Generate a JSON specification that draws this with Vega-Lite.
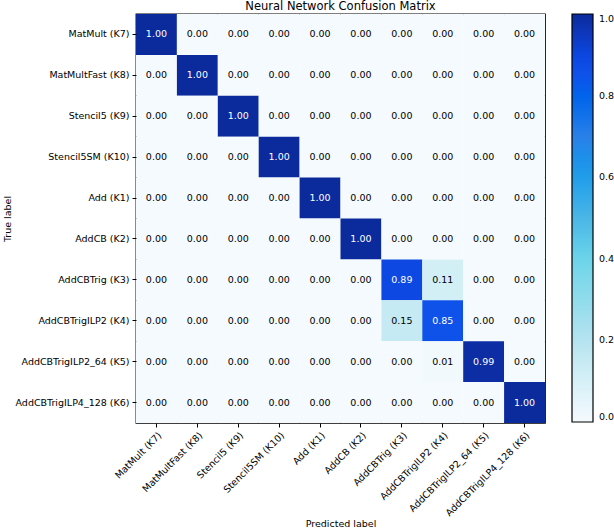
{
  "$schema": "https://vega.github.io/schema/vega-lite/v6.json",
  "width": 409,
  "height": 409,
  "autosize": "none",
  "padding": {"left": 136, "top": 14, "right": 69, "bottom": 107},
  "background": "white",
  "config": {
    "font": "DejaVu Sans",
    "view": {"stroke": "black", "strokeWidth": 1.3},
    "axis": {"labelFont": "DejaVu Sans", "titleFont": "DejaVu Sans", "labelColor": "black", "titleColor": "black", "tickColor": "black", "tickWidth": 1, "domain": false, "grid": false, "labelFontSize": 9.5, "titleFontSize": 9.5, "titleFontWeight": "normal", "tickSize": 4},
    "legend": {"labelFont": "DejaVu Sans", "labelFontSize": 9.5, "labelColor": "black"}
  },
  "title": {"text": "Neural Network Confusion Matrix", "fontSize": 11.5, "fontWeight": "normal", "font": "DejaVu Sans", "color": "black", "offset": 2, "anchor": "middle"},
  "data": {"values": [
    {"t":"MatMult (K7)","p":"MatMult (K7)","v":1.0},{"t":"MatMult (K7)","p":"MatMultFast (K8)","v":0},{"t":"MatMult (K7)","p":"Stencil5 (K9)","v":0},{"t":"MatMult (K7)","p":"Stencil5SM (K10)","v":0},{"t":"MatMult (K7)","p":"Add (K1)","v":0},{"t":"MatMult (K7)","p":"AddCB (K2)","v":0},{"t":"MatMult (K7)","p":"AddCBTrig (K3)","v":0},{"t":"MatMult (K7)","p":"AddCBTrigILP2 (K4)","v":0},{"t":"MatMult (K7)","p":"AddCBTrigILP2_64 (K5)","v":0},{"t":"MatMult (K7)","p":"AddCBTrigILP4_128 (K6)","v":0},
    {"t":"MatMultFast (K8)","p":"MatMult (K7)","v":0},{"t":"MatMultFast (K8)","p":"MatMultFast (K8)","v":1.0},{"t":"MatMultFast (K8)","p":"Stencil5 (K9)","v":0},{"t":"MatMultFast (K8)","p":"Stencil5SM (K10)","v":0},{"t":"MatMultFast (K8)","p":"Add (K1)","v":0},{"t":"MatMultFast (K8)","p":"AddCB (K2)","v":0},{"t":"MatMultFast (K8)","p":"AddCBTrig (K3)","v":0},{"t":"MatMultFast (K8)","p":"AddCBTrigILP2 (K4)","v":0},{"t":"MatMultFast (K8)","p":"AddCBTrigILP2_64 (K5)","v":0},{"t":"MatMultFast (K8)","p":"AddCBTrigILP4_128 (K6)","v":0},
    {"t":"Stencil5 (K9)","p":"MatMult (K7)","v":0},{"t":"Stencil5 (K9)","p":"MatMultFast (K8)","v":0},{"t":"Stencil5 (K9)","p":"Stencil5 (K9)","v":1.0},{"t":"Stencil5 (K9)","p":"Stencil5SM (K10)","v":0},{"t":"Stencil5 (K9)","p":"Add (K1)","v":0},{"t":"Stencil5 (K9)","p":"AddCB (K2)","v":0},{"t":"Stencil5 (K9)","p":"AddCBTrig (K3)","v":0},{"t":"Stencil5 (K9)","p":"AddCBTrigILP2 (K4)","v":0},{"t":"Stencil5 (K9)","p":"AddCBTrigILP2_64 (K5)","v":0},{"t":"Stencil5 (K9)","p":"AddCBTrigILP4_128 (K6)","v":0},
    {"t":"Stencil5SM (K10)","p":"MatMult (K7)","v":0},{"t":"Stencil5SM (K10)","p":"MatMultFast (K8)","v":0},{"t":"Stencil5SM (K10)","p":"Stencil5 (K9)","v":0},{"t":"Stencil5SM (K10)","p":"Stencil5SM (K10)","v":1.0},{"t":"Stencil5SM (K10)","p":"Add (K1)","v":0},{"t":"Stencil5SM (K10)","p":"AddCB (K2)","v":0},{"t":"Stencil5SM (K10)","p":"AddCBTrig (K3)","v":0},{"t":"Stencil5SM (K10)","p":"AddCBTrigILP2 (K4)","v":0},{"t":"Stencil5SM (K10)","p":"AddCBTrigILP2_64 (K5)","v":0},{"t":"Stencil5SM (K10)","p":"AddCBTrigILP4_128 (K6)","v":0},
    {"t":"Add (K1)","p":"MatMult (K7)","v":0},{"t":"Add (K1)","p":"MatMultFast (K8)","v":0},{"t":"Add (K1)","p":"Stencil5 (K9)","v":0},{"t":"Add (K1)","p":"Stencil5SM (K10)","v":0},{"t":"Add (K1)","p":"Add (K1)","v":1.0},{"t":"Add (K1)","p":"AddCB (K2)","v":0},{"t":"Add (K1)","p":"AddCBTrig (K3)","v":0},{"t":"Add (K1)","p":"AddCBTrigILP2 (K4)","v":0},{"t":"Add (K1)","p":"AddCBTrigILP2_64 (K5)","v":0},{"t":"Add (K1)","p":"AddCBTrigILP4_128 (K6)","v":0},
    {"t":"AddCB (K2)","p":"MatMult (K7)","v":0},{"t":"AddCB (K2)","p":"MatMultFast (K8)","v":0},{"t":"AddCB (K2)","p":"Stencil5 (K9)","v":0},{"t":"AddCB (K2)","p":"Stencil5SM (K10)","v":0},{"t":"AddCB (K2)","p":"Add (K1)","v":0},{"t":"AddCB (K2)","p":"AddCB (K2)","v":1.0},{"t":"AddCB (K2)","p":"AddCBTrig (K3)","v":0},{"t":"AddCB (K2)","p":"AddCBTrigILP2 (K4)","v":0},{"t":"AddCB (K2)","p":"AddCBTrigILP2_64 (K5)","v":0},{"t":"AddCB (K2)","p":"AddCBTrigILP4_128 (K6)","v":0},
    {"t":"AddCBTrig (K3)","p":"MatMult (K7)","v":0},{"t":"AddCBTrig (K3)","p":"MatMultFast (K8)","v":0},{"t":"AddCBTrig (K3)","p":"Stencil5 (K9)","v":0},{"t":"AddCBTrig (K3)","p":"Stencil5SM (K10)","v":0},{"t":"AddCBTrig (K3)","p":"Add (K1)","v":0},{"t":"AddCBTrig (K3)","p":"AddCB (K2)","v":0},{"t":"AddCBTrig (K3)","p":"AddCBTrig (K3)","v":0.89},{"t":"AddCBTrig (K3)","p":"AddCBTrigILP2 (K4)","v":0.11},{"t":"AddCBTrig (K3)","p":"AddCBTrigILP2_64 (K5)","v":0},{"t":"AddCBTrig (K3)","p":"AddCBTrigILP4_128 (K6)","v":0},
    {"t":"AddCBTrigILP2 (K4)","p":"MatMult (K7)","v":0},{"t":"AddCBTrigILP2 (K4)","p":"MatMultFast (K8)","v":0},{"t":"AddCBTrigILP2 (K4)","p":"Stencil5 (K9)","v":0},{"t":"AddCBTrigILP2 (K4)","p":"Stencil5SM (K10)","v":0},{"t":"AddCBTrigILP2 (K4)","p":"Add (K1)","v":0},{"t":"AddCBTrigILP2 (K4)","p":"AddCB (K2)","v":0},{"t":"AddCBTrigILP2 (K4)","p":"AddCBTrig (K3)","v":0.15},{"t":"AddCBTrigILP2 (K4)","p":"AddCBTrigILP2 (K4)","v":0.85},{"t":"AddCBTrigILP2 (K4)","p":"AddCBTrigILP2_64 (K5)","v":0},{"t":"AddCBTrigILP2 (K4)","p":"AddCBTrigILP4_128 (K6)","v":0},
    {"t":"AddCBTrigILP2_64 (K5)","p":"MatMult (K7)","v":0},{"t":"AddCBTrigILP2_64 (K5)","p":"MatMultFast (K8)","v":0},{"t":"AddCBTrigILP2_64 (K5)","p":"Stencil5 (K9)","v":0},{"t":"AddCBTrigILP2_64 (K5)","p":"Stencil5SM (K10)","v":0},{"t":"AddCBTrigILP2_64 (K5)","p":"Add (K1)","v":0},{"t":"AddCBTrigILP2_64 (K5)","p":"AddCB (K2)","v":0},{"t":"AddCBTrigILP2_64 (K5)","p":"AddCBTrig (K3)","v":0},{"t":"AddCBTrigILP2_64 (K5)","p":"AddCBTrigILP2 (K4)","v":0.01},{"t":"AddCBTrigILP2_64 (K5)","p":"AddCBTrigILP2_64 (K5)","v":0.99},{"t":"AddCBTrigILP2_64 (K5)","p":"AddCBTrigILP4_128 (K6)","v":0},
    {"t":"AddCBTrigILP4_128 (K6)","p":"MatMult (K7)","v":0},{"t":"AddCBTrigILP4_128 (K6)","p":"MatMultFast (K8)","v":0},{"t":"AddCBTrigILP4_128 (K6)","p":"Stencil5 (K9)","v":0},{"t":"AddCBTrigILP4_128 (K6)","p":"Stencil5SM (K10)","v":0},{"t":"AddCBTrigILP4_128 (K6)","p":"Add (K1)","v":0},{"t":"AddCBTrigILP4_128 (K6)","p":"AddCB (K2)","v":0},{"t":"AddCBTrigILP4_128 (K6)","p":"AddCBTrig (K3)","v":0},{"t":"AddCBTrigILP4_128 (K6)","p":"AddCBTrigILP2 (K4)","v":0},{"t":"AddCBTrigILP4_128 (K6)","p":"AddCBTrigILP2_64 (K5)","v":0},{"t":"AddCBTrigILP4_128 (K6)","p":"AddCBTrigILP4_128 (K6)","v":1.0}
  ]},
  "encoding": {
    "x": {"field": "p", "type": "nominal", "title": "Predicted label",
      "sort": ["MatMult (K7)","MatMultFast (K8)","Stencil5 (K9)","Stencil5SM (K10)","Add (K1)","AddCB (K2)","AddCBTrig (K3)","AddCBTrigILP2 (K4)","AddCBTrigILP2_64 (K5)","AddCBTrigILP4_128 (K6)"],
      "scale": {"paddingInner": 0, "paddingOuter": 0},
      "axis": {"labelAngle": -45, "labelAlign": "right", "labelBaseline": "top", "labelPadding": 3, "titleY": 103, "titleBaseline": "alphabetic"}},
    "y": {"field": "t", "type": "nominal", "title": "True label",
      "sort": ["MatMult (K7)","MatMultFast (K8)","Stencil5 (K9)","Stencil5SM (K10)","Add (K1)","AddCB (K2)","AddCBTrig (K3)","AddCBTrigILP2 (K4)","AddCBTrigILP2_64 (K5)","AddCBTrigILP4_128 (K6)"],
      "scale": {"paddingInner": 0, "paddingOuter": 0},
      "axis": {"labelPadding": 3, "titlePadding": 3}}
  },
  "layer": [
    {"mark": {"type": "rect"},
     "encoding": {"color": {"field": "v", "type": "quantitative", "title": null,
       "scale": {"domain": [0, 0.1, 0.2, 0.3, 0.4, 0.5, 0.7, 0.85, 0.9, 1.0], "range": ["#f4fafd", "#d6f0f7", "#b5e3f0", "#90dcec", "#6cd4ea", "#4bb6e6", "#2a80e8", "#0f52ea", "#0c46e0", "#0b2a9c"]},
       "legend": {"orient": "none", "legendX": 436, "legendY": 0, "gradientLength": 408, "gradientThickness": 21, "gradientStrokeColor": "black", "gradientStrokeWidth": 1.2, "values": [0, 0.2, 0.4, 0.6, 0.8, 1.0], "labelExpr": "format(datum.value, '.1f')", "labelOffset": 6, "direction": "vertical"}}}},
    {"mark": {"type": "text", "fontSize": 9.5, "font": "DejaVu Sans"},
     "encoding": {"text": {"field": "v", "type": "quantitative", "format": ".2f"},
       "color": {"condition": {"test": "datum.v > 0.5", "value": "white"}, "value": "black"}}}
  ]
}
